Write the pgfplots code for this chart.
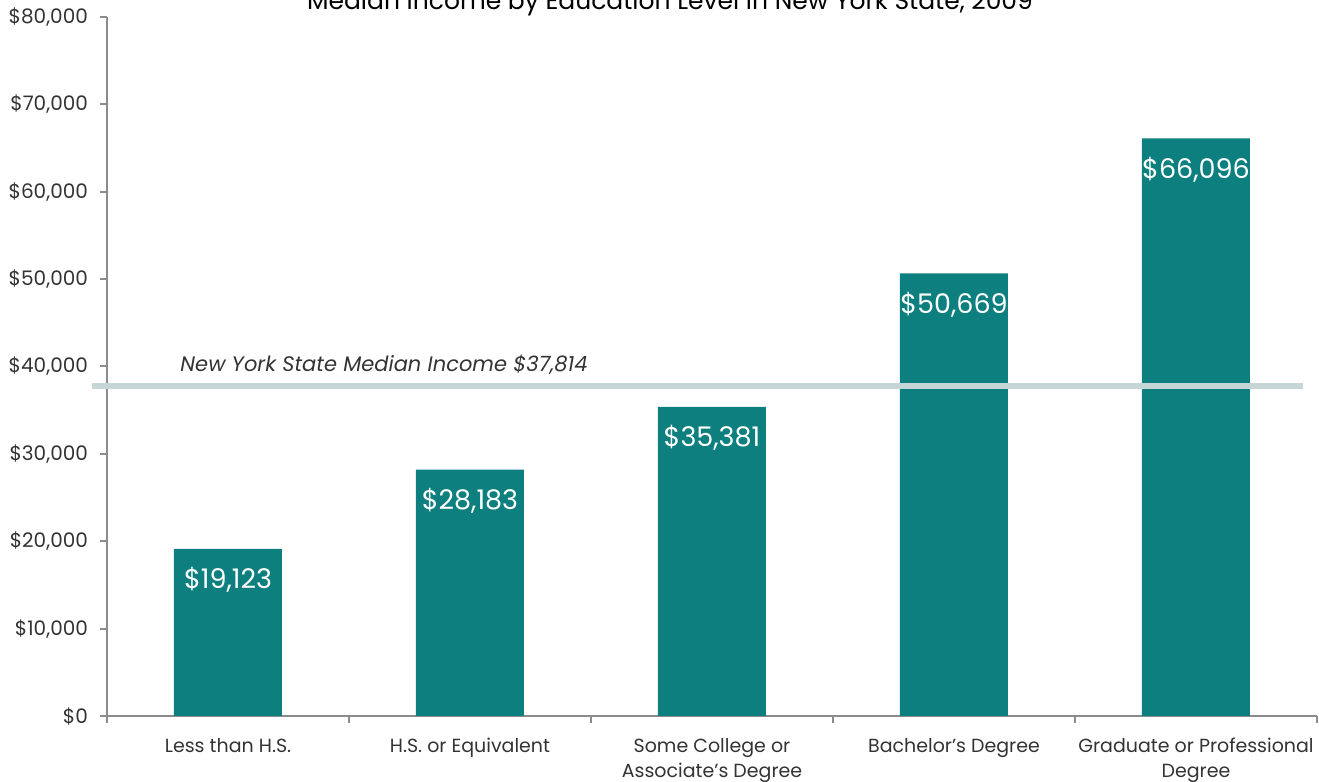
\documentclass[border=0pt]{standalone}
\usepackage{pgfplots}
\pgfplotsset{compat=1.18}
\usepackage{fontspec}
\setmainfont{Poppins}
\definecolor{barc}{HTML}{0E7F7F}
\definecolor{refl}{HTML}{C6D6D7}
\definecolor{axc}{HTML}{8C8C8C}
\definecolor{txt}{HTML}{333333}
\begin{document}
\begin{tikzpicture}
\begin{axis}[
  at={(53.5pt,33pt)}, anchor=south west,
  scale only axis, width=605pt, height=349.5pt,
  xmin=-0.5, xmax=4.5, ymin=0, ymax=80000,
  clip=false,
  axis x line=bottom, axis y line=left,
  axis line style={-, draw=axc, line width=1pt},
  tick align=outside, major tick length=3.5pt, minor tick length=3.5pt,
  tick style={draw=axc, line width=1pt},
  ytick={0,10000,...,80000},
  scaled y ticks=false,
  /pgf/number format/fixed,
  /pgf/number format/1000 sep={,},
  /pgf/number format/assume math mode=true,
  yticklabel={\$\pgfmathprintnumber{\tick}},
  yticklabel style={font=\fontsize{10}{11}\selectfont, text=txt, xshift=-2.5pt},
  xtick={0,1,2,3,4},
  xticklabels={Less than H.S., H.S. or Equivalent, Some College or\\Associate’s Degree, Bachelor’s Degree, Graduate or Professional\\Degree},
  xticklabel style={align=center, font=\fontsize{9.5}{12.5}\selectfont, text=txt, yshift=-4pt},
  every major x tick/.style={draw=none},
  minor xtick={-0.5,0.5,1.5,2.5,3.5,4.5},
]
\addplot[ybar, bar width=54pt, fill=barc, draw=none,
  nodes near coords={\$\pgfmathprintnumber{\pgfplotspointmeta}},
  every node near coord/.append style={anchor=base, yshift=-20pt, text=white, font=\fontsize{13.5}{16}\selectfont}]
  coordinates {(0,19123) (1,28183) (2,35381) (3,50669) (4,66096)};
\addplot[sharp plot, no markers, draw=refl, line width=3pt, forget plot]
  coordinates {(-0.562,37814) (4.442,37814)};
\node[anchor=base west, inner sep=0pt, text=txt, font=\itshape\fontsize{10.5}{12}\selectfont] at (axis cs:-0.198,39370) {New York State Median Income \$37,814};
\end{axis}
\node[anchor=base, inner sep=0pt, font=\fontsize{12.5}{14}\selectfont] at (335pt,386pt) {Median Income by Education Level in New York State, 2009};
\pgfresetboundingbox
\useasboundingbox (0,0) rectangle (659.5pt,391pt);
\end{tikzpicture}
\end{document}
